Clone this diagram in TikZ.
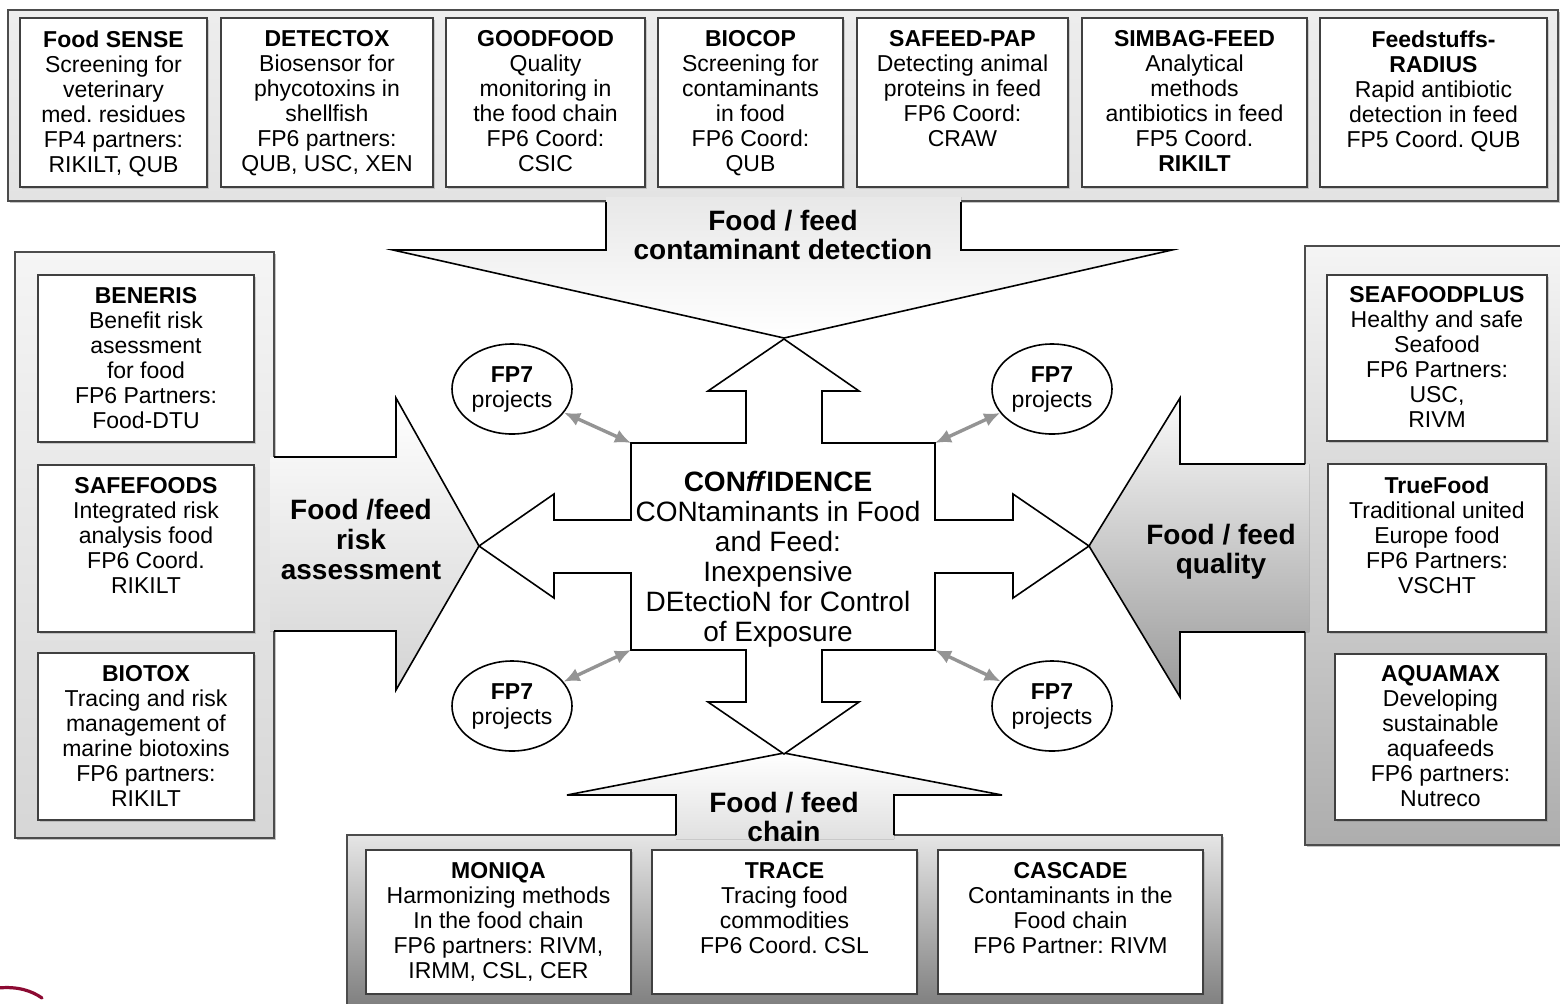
\documentclass[tikz,border=0pt]{standalone}
\usepackage{fontspec}
\setmainfont{Liberation Sans}
\usetikzlibrary{shapes.geometric,arrows.meta,shadows}
\definecolor{logored}{RGB}{140,10,50}
\frenchspacing
\newcommand\projbox[7]{%
  \node[pbox, minimum width={(#4-#2)*0.5pt}, minimum height={(#5-#3)*0.5pt}] (#1) at ({(#2+#4)/2},{(#3+#5)/2}) {};
  \node[ptext, anchor=north] (#1t) at ({(#2+#4)/2},#6) {#7};
}
\begin{document}
\begin{tikzpicture}[x=0.5pt,y=-0.5pt,
  panel/.style={draw=black!70, line width=0.9pt, drop shadow={shadow xshift=1pt, shadow yshift=-1pt, opacity=0.45}},
  pbox/.style={draw=black!75, fill=white, line width=0.9pt, inner sep=0, drop shadow={shadow xshift=0.8pt, shadow yshift=-0.8pt, opacity=0.35}},
  ptext/.style={align=center, inner sep=0, font=\fontsize{11.5}{12.5}\selectfont\frenchspacing},
  biglabel/.style={align=center, inner sep=0, font=\fontsize{14}{14.5}\selectfont\bfseries},
  arrowline/.style={draw=black, line width=0.8pt, line join=miter},
  fpseven/.style={ellipse, draw=black, line width=0.8pt, fill=white, minimum width=60pt, minimum height=45pt, inner sep=0, align=center, font=\fontsize{11.5}{12.5}\selectfont},
  link/.style={draw=black!42, line width=1.7pt, {Latex[length=8pt,width=7pt]}-{Latex[length=8pt,width=7pt]}}
]
\useasboundingbox (0,0) rectangle (1560,1003);
\fill[white] (0,0) rectangle (1560,1003);

% ---------- panels ----------
\draw[panel, top color=black!7, bottom color=black!11] (8,10) rectangle (1558,201);
\draw[panel, top color=black!4, bottom color=black!16] (15,252) rectangle (274,838);
\draw[panel, top color=black!4, bottom color=black!32] (1305,246) rectangle (1562,845);
\draw[panel, top color=black!10, bottom color=black!50] (347,835) rectangle (1222,1006);

% ---------- big arrows ----------
% top (pointing down)
\fill[top color=black!9, bottom color=white] (606,197) -- (606,250) -- (393,250) -- (784,338) -- (1172,250) -- (961,250) -- (961,197) -- cycle;
\draw[arrowline] (606,202) -- (606,250) -- (393,250) -- (784,338) -- (1172,250) -- (961,250) -- (961,202);
% left (pointing right)
\fill[top color=white, bottom color=black!17] (270,457) -- (396,457) -- (396,398) -- (479,546) -- (396,690) -- (396,631) -- (270,631) -- cycle;
\draw[arrowline] (274,457) -- (396,457) -- (396,398) -- (479,546) -- (396,690) -- (396,631) -- (274,631);
% right (pointing left)
\fill[top color=black!2, bottom color=black!40] (1309,464) -- (1180,464) -- (1180,398) -- (1089,546) -- (1180,697) -- (1180,632) -- (1309,632) -- cycle;
\draw[arrowline] (1305,464) -- (1180,464) -- (1180,398) -- (1089,546) -- (1180,697) -- (1180,632) -- (1305,632);
% bottom (pointing up)
\fill[top color=white, bottom color=black!12] (676,839) -- (676,795) -- (567,795) -- (784,753) -- (1002,795) -- (894,795) -- (894,839) -- cycle;
\draw[arrowline] (676,835) -- (676,795) -- (567,795) -- (784,753) -- (1002,795) -- (894,795) -- (894,835);

% ---------- central cross ----------
\draw[arrowline, fill=white] (631,443) -- (746,443) -- (746,391) -- (708,391) -- (784,339) -- (859,391) -- (822,391) -- (822,443) -- (935,443) -- (935,520) -- (1013,520) -- (1013,494) -- (1089,546) -- (1013,598) -- (1013,573) -- (935,573) -- (935,650) -- (822,650) -- (822,702) -- (859,702) -- (784,754) -- (708,702) -- (746,702) -- (746,650) -- (631,650) -- (631,573) -- (554,573) -- (554,598) -- (479,546) -- (554,494) -- (554,520) -- (631,520) -- cycle;
\coordinate (cTL) at (631,443);
\coordinate (cTR) at (935,443);
\coordinate (cBL) at (631,650);
\coordinate (cBR) at (935,650);

% ---------- top boxes ----------
\projbox{fs}{20}{18}{207}{187}{30}{\textbf{Food SENSE}\\Screening for\\veterinary\\med. residues\\FP4 partners:\\RIKILT, QUB}
\projbox{dt}{221}{18}{433}{187}{30}{\textbf{DETECTOX}\\Biosensor for\\phycotoxins in\\shellfish\\FP6 partners:\\QUB, USC, XEN}
\projbox{gf}{446}{18}{645}{187}{30}{\textbf{GOODFOOD}\\Quality\\monitoring in\\the food chain\\FP6 Coord:\\CSIC}
\projbox{bc}{658}{18}{843}{187}{30}{\textbf{BIOCOP}\\Screening for\\contaminants\\in food\\FP6 Coord:\\QUB}
\projbox{sp}{857}{18}{1068}{187}{30}{\textbf{SAFEED-PAP}\\Detecting animal\\proteins in feed\\FP6 Coord:\\CRAW}
\projbox{sb}{1082}{18}{1307}{187}{30}{\textbf{SIMBAG-FEED}\\Analytical\\methods\\antibiotics in feed\\FP5 Coord.\\\textbf{RIKILT}}
\projbox{fr}{1320}{18}{1547}{187}{30}{\textbf{Feedstuffs-}\\\textbf{RADIUS}\\Rapid antibiotic\\detection in feed\\FP5 Coord. QUB}

% ---------- left boxes ----------
\projbox{bn}{38}{275}{254}{442}{287}{\textbf{BENERIS}\\Benefit risk\\asessment\\for food\\FP6 Partners:\\Food-DTU}
\projbox{sf}{38}{465}{254}{632}{477}{\textbf{SAFEFOODS}\\Integrated risk\\analysis food\\FP6 Coord.\\RIKILT}
\projbox{bt}{38}{653}{254}{820}{665}{\textbf{BIOTOX}\\Tracing and risk\\management of\\marine biotoxins\\FP6 partners:\\RIKILT}

% ---------- right boxes ----------
\projbox{spl}{1327}{275}{1547}{441}{286}{\textbf{SEAFOODPLUS}\\Healthy and safe\\Seafood\\FP6 Partners:\\USC,\\RIVM}
\projbox{tf}{1328}{464}{1546}{632}{476}{\textbf{TrueFood}\\Traditional united\\Europe food\\FP6 Partners:\\VSCHT}
\projbox{aq}{1335}{654}{1546}{820}{665}{\textbf{AQUAMAX}\\Developing\\sustainable\\aquafeeds\\FP6 partners:\\Nutreco}

% ---------- bottom boxes ----------
\projbox{mq}{366}{850}{631}{994}{862}{\textbf{MONIQA}\\Harmonizing methods\\In the food chain\\FP6 partners: RIVM,\\IRMM, CSL, CER}
\projbox{tr}{652}{850}{917}{994}{862}{\textbf{TRACE}\\Tracing food\\commodities\\FP6 Coord. CSL}
\projbox{cc}{938}{850}{1203}{994}{862}{\textbf{CASCADE}\\Contaminants in the\\Food chain\\FP6 Partner: RIVM}

% ---------- big labels ----------
\node[biglabel, anchor=north] (ltop) at (783,210) {Food / feed\\contaminant detection};
\node[biglabel, anchor=north, font=\fontsize{14}{15}\selectfont\bfseries] (lleft) at (361,499) {Food /feed\\risk\\assessment};
\node[biglabel, anchor=north] (lright) at (1221,524) {Food / feed\\quality};
\node[biglabel, anchor=north] (lbot) at (784,792) {Food / feed\\chain};
\node[align=center, inner sep=0, anchor=north, font=\fontsize{14}{15}\selectfont] (center) at (778,471)
  {\textbf{CON\textit{ff}IDENCE}\\CONtaminants in Food\\and Feed:\\Inexpensive\\DEtectioN for Control\\of Exposure};

% ---------- FP7 ellipses ----------
\node[fpseven] (e1) at (512,389) {\textbf{FP7}\\projects};
\node[fpseven] (e2) at (1052,389) {\textbf{FP7}\\projects};
\node[fpseven] (e3) at (512,706) {\textbf{FP7}\\projects};
\node[fpseven] (e4) at (1052,706) {\textbf{FP7}\\projects};
\draw[link] (e1) -- (cTL);
\draw[link] (e2) -- (cTR);
\draw[link] (e3) -- (cBL);
\draw[link] (e4) -- (cBR);

% ---------- logo fragment ----------
\draw[logored, line width=1.6pt, line cap=round] (-2,988) .. controls (18,986) and (32,991) .. (42,998);
\end{tikzpicture}
\end{document}
